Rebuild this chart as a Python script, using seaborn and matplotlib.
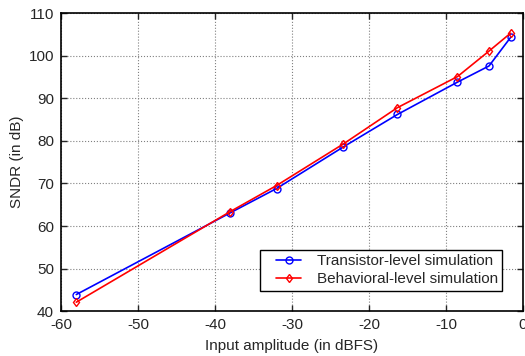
import numpy as np
import pandas as pd
import matplotlib
matplotlib.use("Agg")
import matplotlib.pyplot as plt
from matplotlib.lines import Line2D
from matplotlib.legend_handler import HandlerLine2D
import seaborn as sns

# input amplitude (dBFS) and SNDR (dB)
input_dbfs = [-58, -38, -32, -23.3, -16.3, -8.5, -4.4, -1.6]
sndr_transistor = [43.9, 63.1, 68.8, 78.6, 86.2, 93.8, 97.6, 104.3]
sndr_behavioral = [42.1, 63.4, 69.5, 79.3, 87.8, 95.1, 101.1, 105.3]

sns.set_style("ticks")
plt.rcParams['font.family'] = ['Liberation Sans', 'DejaVu Sans']
plt.rcParams['font.size'] = 11
plt.rcParams['axes.unicode_minus'] = False

df = pd.DataFrame({
    'x': input_dbfs * 2,
    'y': sndr_transistor + sndr_behavioral,
    'sim': ['Transistor-level simulation'] * len(input_dbfs) + ['Behavioral-level simulation'] * len(input_dbfs),
})

fig = plt.figure(figsize=(5.25, 3.56), dpi=100)
ax = fig.add_axes([0.116, 0.126, 0.88, 0.837])

sns.lineplot(data=df[df.sim == 'Transistor-level simulation'], x='x', y='y', ax=ax,
             color='blue', marker='o', markersize=5, markerfacecolor='none',
             markeredgecolor='blue', markeredgewidth=1, linewidth=1.2,
             label='Transistor-level simulation')
sns.lineplot(data=df[df.sim == 'Behavioral-level simulation'], x='x', y='y', ax=ax,
             color='red', marker='d', markersize=4.5, markerfacecolor='none',
             markeredgecolor='red', markeredgewidth=1, linewidth=1.2,
             label='Behavioral-level simulation')

ax.set_xlim(-60, 0)
ax.set_ylim(40, 110)
ax.set_xticks(np.arange(-60, 1, 10))
ax.set_yticks(np.arange(40, 111, 10))
ax.grid(True, linestyle=':', color='gray', linewidth=0.8)
ax.tick_params(direction='in', top=True, right=True, length=4, width=1,
               labelsize=11, pad=5)
for s in ax.spines.values():
    s.set_linewidth(1.2)
    s.set_color('black')
ax.set_xlabel('Input amplitude (in dBFS)', fontsize=11, labelpad=5)
ax.set_ylabel('SNDR (in dB)', fontsize=11, labelpad=3)

# extra left room before the legend lines, like the reference
leg = ax.legend(loc='lower right', fancybox=False, edgecolor='black', framealpha=1,
                fontsize=11, borderaxespad=1.35, handlelength=2.4,
                handletextpad=1.0, labelspacing=0.25, borderpad=0.3,
                handler_map={Line2D: HandlerLine2D(xpad=0.75)})
leg.get_frame().set_linewidth(1)

fig.savefig('out.png', dpi=100)
